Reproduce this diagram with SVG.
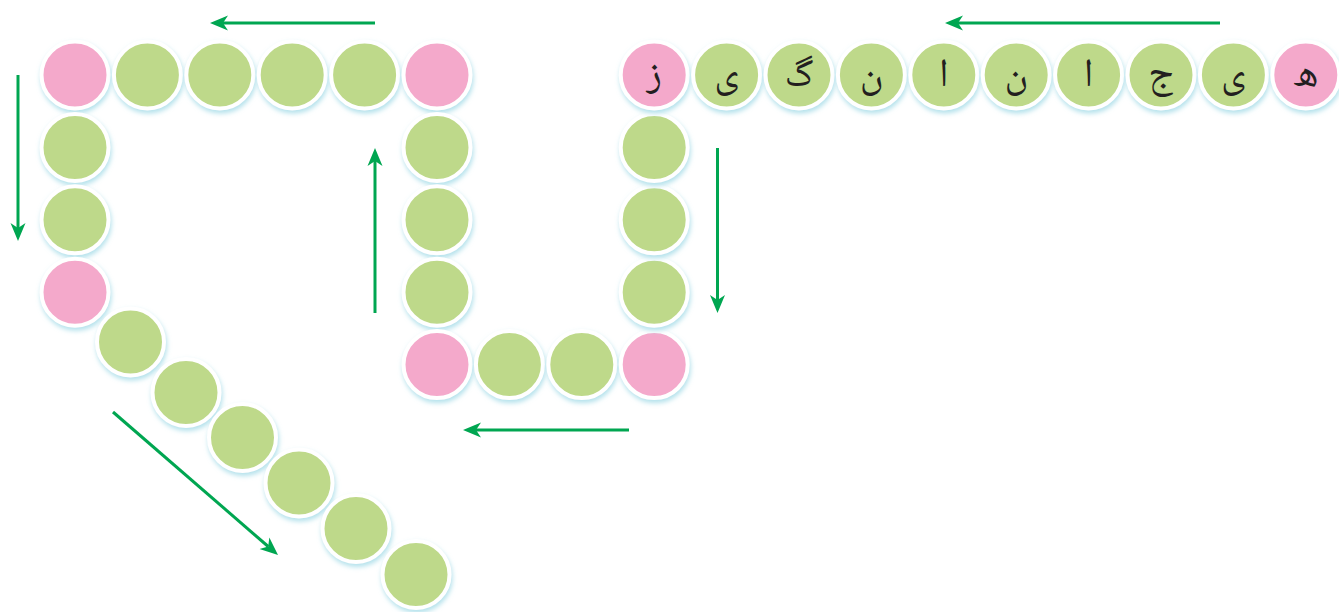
<svg xmlns="http://www.w3.org/2000/svg" xmlns:xlink="http://www.w3.org/1999/xlink" width="1339" height="612" viewBox="0 0 1339 612">
<style>
.g{fill:#BED98A;stroke:#FFFFFF;stroke-width:4;filter:url(#sh)}
.p{fill:#F4A9CB;stroke:#FFFFFF;stroke-width:4;filter:url(#sh)}
.t{font-family:"Noto Naskh Arabic","Noto Sans Arabic","DejaVu Sans",sans-serif;font-size:40px;fill:#231F20;text-anchor:middle}
.a{stroke:#00A651;stroke-width:3;fill:none;marker-end:url(#ah)}
</style>
<defs>
<filter id="sh" x="-30%" y="-30%" width="160%" height="170%">
<feGaussianBlur in="SourceAlpha" stdDeviation="2.5" result="b"/>
<feOffset in="b" dx="1" dy="3" result="o"/>
<feFlood flood-color="#9ED9E6" flood-opacity="0.8"/>
<feComposite in2="o" operator="in" result="s"/>
<feMerge><feMergeNode in="s"/><feMergeNode in="SourceGraphic"/></feMerge>
</filter>
<marker id="ah" viewBox="0 -8 18 16" markerWidth="18" markerHeight="16" refX="5" refY="0" orient="auto" markerUnits="userSpaceOnUse">
<path d="M18,0 L0,-7.5 L5,0 L0,7.5 Z" fill="#00A651"/>
</marker>
</defs>
<rect width="1339" height="612" fill="#FFFFFF"/>
<g id="connectors">
<line class="a" x1="375" y1="23" x2="223" y2="23"/>
<line class="a" x1="1220" y1="23" x2="958" y2="23"/>
<line class="a" x1="18" y1="75" x2="18" y2="228"/>
<line class="a" x1="375" y1="313" x2="375" y2="161"/>
<line class="a" x1="717.5" y1="148" x2="717.5" y2="300"/>
<line class="a" x1="629" y1="430" x2="476" y2="430"/>
<line class="a" x1="113" y1="412" x2="268.2" y2="546.5"/>
</g>
<g id="n_tl0"><circle class="p" cx="75" cy="75" r="33.5"/></g>
<g id="n_tl1"><circle class="g" cx="147.4" cy="75" r="33.5"/></g>
<g id="n_tl2"><circle class="g" cx="219.8" cy="75" r="33.5"/></g>
<g id="n_tl3"><circle class="g" cx="292.2" cy="75" r="33.5"/></g>
<g id="n_tl4"><circle class="g" cx="364.6" cy="75" r="33.5"/></g>
<g id="n_tl5"><circle class="p" cx="437" cy="75" r="33.5"/></g>
<g id="n_l1"><circle class="g" cx="75" cy="147.4" r="33.5"/></g>
<g id="n_l2"><circle class="g" cx="75" cy="219.8" r="33.5"/></g>
<g id="n_l3"><circle class="p" cx="75" cy="292.2" r="33.5"/></g>
<g id="n_d1"><circle class="g" cx="130.5" cy="342" r="33.5"/></g>
<g id="n_d2"><circle class="g" cx="186" cy="392.5" r="33.5"/></g>
<g id="n_d3"><circle class="g" cx="242.5" cy="437.5" r="33.5"/></g>
<g id="n_d4"><circle class="g" cx="299" cy="483" r="33.5"/></g>
<g id="n_d5"><circle class="g" cx="356" cy="528.5" r="33.5"/></g>
<g id="n_d6"><circle class="g" cx="416" cy="574.5" r="33.5"/></g>
<g id="n_m1"><circle class="g" cx="437" cy="147.4" r="33.5"/></g>
<g id="n_m2"><circle class="g" cx="437" cy="219.8" r="33.5"/></g>
<g id="n_m3"><circle class="g" cx="437" cy="292.2" r="33.5"/></g>
<g id="n_b0"><circle class="p" cx="437" cy="364.6" r="33.5"/></g>
<g id="n_b1"><circle class="g" cx="509.4" cy="364.6" r="33.5"/></g>
<g id="n_b2"><circle class="g" cx="581.8" cy="364.6" r="33.5"/></g>
<g id="n_b3"><circle class="p" cx="654.2" cy="364.6" r="33.5"/></g>
<g id="n_r3"><circle class="g" cx="654.2" cy="292.2" r="33.5"/></g>
<g id="n_r2"><circle class="g" cx="654.2" cy="219.8" r="33.5"/></g>
<g id="n_r1"><circle class="g" cx="654.2" cy="147.4" r="33.5"/></g>
<g id="n_z"><circle class="p" cx="654.2" cy="75" r="33.5"/><text class="t" x="654.2" y="86">ز</text></g>
<g id="n_y2"><circle class="g" cx="726.6" cy="75" r="33.5"/><text class="t" x="726.6" y="86">ی</text></g>
<g id="n_g"><circle class="g" cx="799" cy="75" r="33.5"/><text class="t" x="799" y="86">گ</text></g>
<g id="n_n2"><circle class="g" cx="871.4" cy="75" r="33.5"/><text class="t" x="871.4" y="86">ن</text></g>
<g id="n_a2"><circle class="g" cx="943.8" cy="75" r="33.5"/><text class="t" x="943.8" y="86">ا</text></g>
<g id="n_n1"><circle class="g" cx="1016.2" cy="75" r="33.5"/><text class="t" x="1016.2" y="86">ن</text></g>
<g id="n_a1"><circle class="g" cx="1088.6" cy="75" r="33.5"/><text class="t" x="1088.6" y="86">ا</text></g>
<g id="n_j"><circle class="g" cx="1161" cy="75" r="33.5"/><text class="t" x="1161" y="86">ج</text></g>
<g id="n_y1"><circle class="g" cx="1233.4" cy="75" r="33.5"/><text class="t" x="1233.4" y="86">ی</text></g>
<g id="n_h"><circle class="p" cx="1305.8" cy="75" r="33.5"/><text class="t" x="1305.8" y="86">ه</text></g>
</svg>
